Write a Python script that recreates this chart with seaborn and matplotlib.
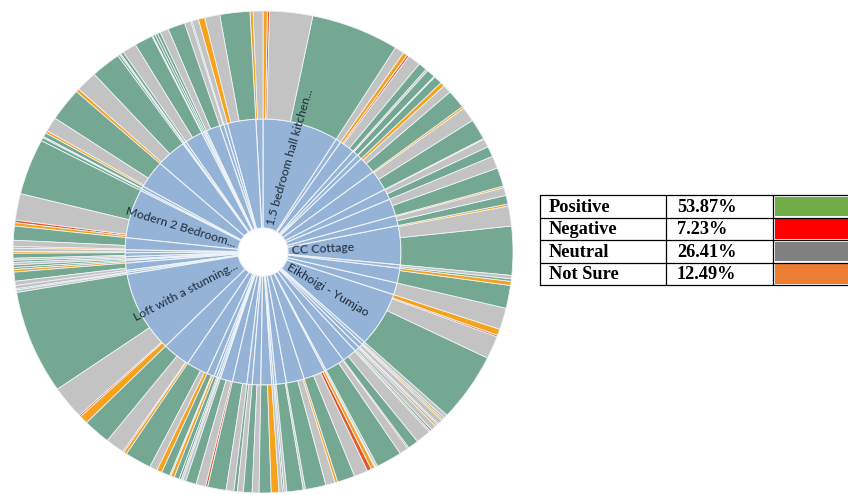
import numpy as np
import matplotlib
matplotlib.use('Agg')
import matplotlib.pyplot as plt
from matplotlib.patches import Rectangle
import seaborn as sns

sns.set_theme(style='white')

# listings, counter-clockwise from just below 3 o'clock
listing_names = ['CC Cottage', '', '', '', '', '', '', '', '', '',
                 '1.5 bedroom hall kitchen...', '', '', '', '', '', '', '', '', '',
                 '', '', '', '', '', '', 'Modern 2 Bedroom...', '', '', '',
                 '', '', '', '', '', '', 'Loft with a stunning...', '', '', '',
                 '', '', '', '', '', '', '', '', '', '',
                 '', '', '', '', '', '', '', '', '', 'Eikhoigi - Yumjao',
                 '', '', '']
pos_counts = [118, 21, 45, 25, 50, 45, 20, 20, 20, 0,
              205, 0, 70, 0, 3, 40, 7, 6, 6, 43,
              7, 5, 70, 80, 10, 8, 135, 34, 0, 12,
              5, 6, 5, 22, 0, 3, 250, 64, 62, 20,
              12, 5, 0, 25, 43, 8, 20, 28, 0, 4,
              38, 48, 41, 2, 60, 25, 5, 3, 4, 165,
              0, 55, 6]
neu_counts = [48, 19, 30, 20, 35, 20, 2, 5, 30, 22,
              100, 23, 35, 15, 15, 20, 0, 0, 2, 33,
              3, 0, 50, 35, 3, 0, 64, 15, 8, 5,
              6, 0, 0, 10, 8, 6, 80, 44, 18, 3,
              0, 4, 7, 22, 18, 14, 16, 0, 8, 6,
              5, 22, 32, 5, 21, 35, 12, 12, 9, 55,
              52, 0, 8]
neg_counts = [0, 0, 0, 0, 0, 0, 0, 0, 5, 0,
              5, 0, 0, 0, 0, 0, 0, 0, 0, 0,
              0, 0, 0, 0, 0, 0, 6, 0, 0, 0,
              0, 0, 0, 0, 0, 0, 4, 3, 0, 0,
              0, 0, 0, 5, 0, 0, 0, 0, 0, 0,
              0, 0, 10, 0, 3, 3, 0, 0, 0, 4,
              0, 0, 0]
uns_counts = [5, 4, 0, 2, 5, 10, 0, 0, 10, 0,
              10, 7, 15, 0, 0, 0, 0, 0, 0, 0,
              0, 0, 8, 6, 0, 0, 8, 4, 4, 0,
              0, 0, 6, 0, 0, 0, 20, 7, 12, 8,
              0, 0, 0, 0, 0, 0, 0, 18, 0, 0,
              0, 6, 9, 0, 0, 0, 5, 4, 0, 15,
              0, 10, 0]

# summary table
sentiments = ['Positive', 'Negative', 'Neutral', 'Not Sure']
sentiment_pct = [53.87, 7.23, 26.41, 12.49]
table_colors = ['#70ad47', '#ff0000', '#808080', '#ed7d31']

ring_colors = {'pos': '#74a892', 'neu': '#c3c3c3', 'neg': '#e4572e', 'uns': '#f7a21b'}
inner_blue = '#94b3d7'
edge = '#eef3f8'
start_angle = -5.6

pos = np.array(pos_counts); neu = np.array(neu_counts)
neg = np.array(neg_counts); uns = np.array(uns_counts)
totals = pos + neu + neg + uns

# outer ring: sentiment pieces of each listing, in listing order
outer_vals, outer_cols = [], []
for i in range(len(totals)):
    for key, arr in [('pos', pos), ('neu', neu), ('neg', neg), ('uns', uns)]:
        if arr[i] > 0:
            outer_vals.append(arr[i])
            outer_cols.append(ring_colors[key])

fig = plt.figure(figsize=(8.48, 4.95), dpi=100)
ax = fig.add_axes([13 / 848, 2 / 495, 500 / 848, 482 / 495])

r_hole, r_mid = 0.1, 0.552
ax.pie(totals, radius=r_mid, colors=[inner_blue] * len(totals),
       startangle=start_angle, counterclock=True,
       wedgeprops=dict(width=r_mid - r_hole, edgecolor=edge, linewidth=0.8))
ax.pie(outer_vals, radius=1.0, colors=outer_cols,
       startangle=start_angle, counterclock=True,
       wedgeprops=dict(width=1.0 - r_mid, edgecolor=edge, linewidth=0.6))
ax.set_aspect('auto')
ax.set_xlim(-1, 1); ax.set_ylim(-1, 1)
ax.axis('off')

# radial labels for the big listings
cum = np.cumsum(totals)
mids = start_angle + (cum - totals / 2) / cum[-1] * 360
for name, mid in zip(listing_names, mids):
    if not name:
        continue
    th = np.deg2rad(mid)
    x, y = 0.115 * np.cos(th), 0.115 * np.sin(th)
    if np.cos(th) >= 0:
        rot, ha = (mid + 180) % 360 - 180, 'left'
    else:
        rot, ha = mid - 180, 'right'
    ax.text(x, y, name, rotation=rot, rotation_mode='anchor', ha=ha, va='center',
            fontsize=8.8, family='Lato', color='#1d2b3a')

# table on the right, pixel coordinates
tx = fig.add_axes([0, 0, 1, 1])
tx.set_xlim(0, 848); tx.set_ylim(495, 0); tx.axis('off')
row_y = [195, 217.5, 240, 262.5, 285]
col_x = [540, 666, 773, 860]
for j in range(len(sentiments)):
    y0, y1 = row_y[j], row_y[j + 1]
    tx.add_patch(Rectangle((col_x[2] + 1.5, y0 + 1.5), col_x[3] - col_x[2], y1 - y0 - 3,
                           facecolor=table_colors[j], edgecolor='none'))
    yc = (y0 + y1) / 2 + 1
    tx.text(col_x[0] + 9, yc, sentiments[j], ha='left', va='center', fontsize=13.2,
            family='Liberation Serif', weight='bold', color='black')
    tx.text(col_x[1] + 11, yc, f'{sentiment_pct[j]:.2f}%', ha='left', va='center',
            fontsize=13.2, family='Liberation Serif', weight='bold', color='black')
for y in row_y:
    tx.plot([col_x[0], 848], [y, y], color='black', lw=0.9)
for x in col_x[:3]:
    tx.plot([x, x], [row_y[0], row_y[-1]], color='black', lw=0.9)

fig.savefig('out.png', dpi=100, facecolor='white')
